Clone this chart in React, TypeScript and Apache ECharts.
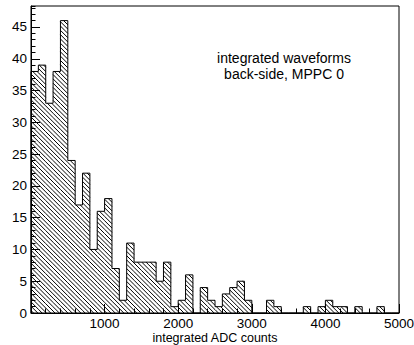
import React, { useEffect, useRef } from "react";
import * as echarts from "echarts";

// Histogram: 50 bins of width 100 from 0 to 5000
const binStart = 0;
const binWidth = 100;
const counts = [
  38, 39, 33, 38, 46, 24, 17, 22, 10, 16,
  18, 7, 2, 11, 8, 8, 8, 5, 8, 1,
  2, 6, 0, 4, 2, 1, 3, 4, 5, 2,
  0, 0, 2, 1, 0, 0, 0, 1, 0, 1,
  2, 1, 1, 0, 1, 0, 0, 1, 0, 0,
];
const xTicks = [0, 1000, 2000, 3000, 4000, 5000];
const yMax = 48.3;
const xTitle = "integrated ADC counts";
const noteLines = ["integrated waveforms", "back-side, MPPC 0"];

const FONT = "'Liberation Sans', Arial, Helvetica, sans-serif";

export default function App() {
  const ref = useRef<HTMLDivElement>(null);
  useEffect(() => {
    if (!ref.current) return;
    const chart = echarts.init(ref.current, undefined, { renderer: "svg" });

    const binData = counts.map((c, i) => [
      binStart + i * binWidth,
      binStart + (i + 1) * binWidth,
      c,
    ]);
    const outline: number[][] = [[binStart, 0]];
    counts.forEach((c, i) => {
      outline.push([binStart + i * binWidth, c]);
      outline.push([binStart + (i + 1) * binWidth, c]);
    });
    outline.push([binStart + counts.length * binWidth, 0]);

    const spacing = 4.3;

    chart.setOption({
      animation: false,
      grid: {
        left: 31,
        right: 15,
        top: 6,
        bottom: 32,
        outerBoundsMode: "none",
        containLabel: false,
        show: true,
        borderColor: "#000",
        borderWidth: 1,
        backgroundColor: "transparent",
      },
      xAxis: {
        type: "value",
        min: xTicks[0],
        max: xTicks[xTicks.length - 1],
        interval: 1000,
        name: xTitle,
        nameLocation: "middle",
        nameGap: 18,
        nameMoveOverlap: false,
        nameTextStyle: { color: "#000", fontSize: 12.5, fontFamily: FONT, lineHeight: 13 },
        axisLine: { show: true, lineStyle: { color: "#000", width: 1 } },
        axisTick: { show: true, inside: true, length: 9, lineStyle: { color: "#000" } },
        minorTick: { show: true, splitNumber: 5, length: 4.5, lineStyle: { color: "#000" } },
        splitLine: { show: false },
        axisLabel: {
          color: "#000",
          fontSize: 13.5,
          lineHeight: 14,
          fontFamily: FONT,
          margin: 3,
          formatter: (v: number) => (v === 0 ? "" : String(v)),
        },
      },
      yAxis: [
        {
          type: "value",
          min: 0,
          max: yMax,
          interval: 5,
          position: "left",
          axisLine: { show: true, lineStyle: { color: "#000", width: 1 } },
          axisTick: { show: true, inside: true, length: 9, lineStyle: { color: "#000" } },
          splitLine: { show: false },
          axisLabel: {
            color: "#000",
            fontSize: 13.5,
            fontFamily: FONT,
            margin: 4,
            showMaxLabel: false,
          },
        },
        {
          type: "value",
          min: 0,
          max: yMax,
          interval: 1,
          position: "left",
          axisLine: { show: false },
          axisTick: { show: true, inside: true, length: 4.5, lineStyle: { color: "#000" } },
          splitLine: { show: false },
          axisLabel: { show: false },
        },
      ],
      graphic: noteLines.map((t, i) => ({
        type: "text",
        x: 284,
        y: 58 + i * 16,
        style: {
          text: t,
          fill: "#000",
          font: `14px ${FONT}`,
          align: "center",
          verticalAlign: "middle",
        },
      })),
      series: [
        {
          type: "custom",
          xAxisIndex: 0,
          yAxisIndex: 0,
          data: binData,
          encode: { x: [0, 1], y: 2 },
          clip: true,
          silent: true,
          renderItem: (params: any, api: any) => {
            const lo = api.value(0);
            const hi = api.value(1);
            const v = api.value(2);
            if (!v) return { type: "group", children: [] };
            const p0 = api.coord([lo, v]);
            const p1 = api.coord([hi, 0]);
            const x0 = p0[0], yt = p0[1], x1 = p1[0], yb = p1[1];
            const cmin = yt - x1;
            const cmax = yb - x0;
            const children: any[] = [];
            for (let k = Math.ceil(cmin / spacing); k * spacing <= cmax; k++) {
              const c = k * spacing;
              const xa = Math.max(x0, yt - c);
              const xb = Math.min(x1, yb - c);
              if (xb - xa > 0.05) {
                children.push({
                  type: "line",
                  shape: { x1: xa, y1: xa + c, x2: xb, y2: xb + c },
                  style: { stroke: "#000", lineWidth: 1 },
                });
              }
            }
            return { type: "group", children };
          },
        },
        {
          type: "line",
          xAxisIndex: 0,
          yAxisIndex: 0,
          data: outline,
          symbol: "none",
          lineStyle: { color: "#000", width: 1 },
          silent: true,
          z: 3,
        },
      ],
    });
    return () => chart.dispose();
  }, []);
  return (
    <div
      ref={ref}
      style={{ position: "fixed", left: 0, top: 0, width: 414, height: 345, background: "#fff" }}
    />
  );
}
